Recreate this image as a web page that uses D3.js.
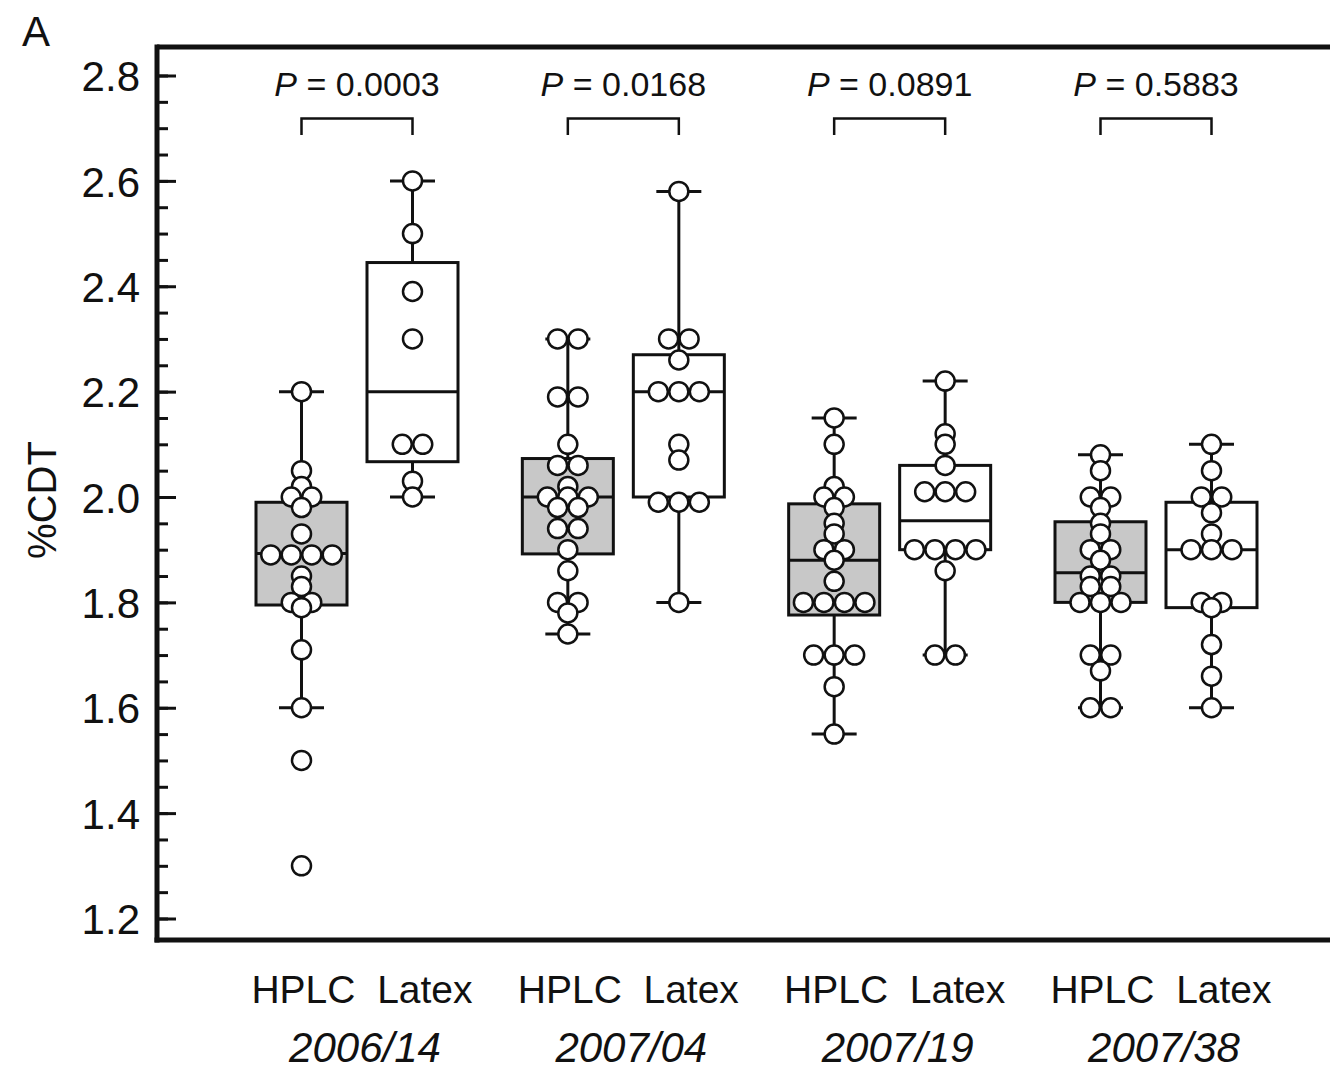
<!DOCTYPE html>
<html>
<head>
<meta charset="utf-8">
<script src="https://cdn.jsdelivr.net/npm/d3@7"></script>
<style>
  body { margin: 0; background: #fff; }
  text { font-family: "Liberation Sans", Arial, Helvetica, sans-serif; fill: #111; }
</style>
</head>
<body>
<svg id="chart" width="1330" height="1072"></svg>
<script>
// data
var groups = ["2006/14", "2007/04", "2007/19", "2007/38"];
var methods = ["HPLC", "Latex"];
var pValues = ["0.0003", "0.0168", "0.0891", "0.5883"];
var majorTicks = [1.2, 1.4, 1.6, 1.8, 2.0, 2.2, 2.4, 2.6, 2.8];

var hplcPoints = [
  [2.20, 2.05, 2.02, 2.00, 2.00, 1.98, 1.93, 1.89, 1.89, 1.89, 1.89, 1.85, 1.83, 1.80, 1.80, 1.79, 1.71, 1.60, 1.50, 1.30],
  [2.30, 2.30, 2.19, 2.19, 2.10, 2.06, 2.06, 2.02, 2.00, 2.00, 2.00, 1.98, 1.98, 1.94, 1.94, 1.90, 1.86, 1.80, 1.80, 1.78, 1.74],
  [2.15, 2.10, 2.02, 2.00, 2.00, 1.98, 1.95, 1.93, 1.90, 1.90, 1.88, 1.84, 1.80, 1.80, 1.80, 1.80, 1.70, 1.70, 1.70, 1.64, 1.55],
  [2.08, 2.05, 2.00, 2.00, 1.98, 1.95, 1.93, 1.90, 1.90, 1.88, 1.85, 1.85, 1.83, 1.83, 1.80, 1.80, 1.80, 1.70, 1.70, 1.67, 1.60, 1.60]
];
var latexPoints = [
  [2.60, 2.50, 2.39, 2.30, 2.10, 2.10, 2.03, 2.00],
  [2.58, 2.30, 2.30, 2.26, 2.20, 2.20, 2.20, 2.10, 2.07, 1.99, 1.99, 1.99, 1.80],
  [2.22, 2.12, 2.10, 2.06, 2.01, 2.01, 2.01, 1.90, 1.90, 1.90, 1.90, 1.86, 1.70, 1.70],
  [2.10, 2.05, 2.00, 2.00, 1.97, 1.93, 1.90, 1.90, 1.90, 1.80, 1.80, 1.79, 1.72, 1.66, 1.60]
];

// [lower whisker, q1, median, q3, upper whisker]
var hplcBoxes = [
  [1.60, 1.795, 1.893, 1.99, 2.20],
  [1.74, 1.892, 2.00, 2.073, 2.30],
  [1.55, 1.776, 1.88, 1.987, 2.15],
  [1.60, 1.80, 1.856, 1.953, 2.08]
];
var latexBoxes = [
  [2.00, 2.067, 2.20, 2.445, 2.60],
  [1.80, 2.00, 2.20, 2.27, 2.58],
  [1.70, 1.90, 1.955, 2.06, 2.22],
  [1.60, 1.79, 1.90, 1.99, 2.10]
];

var svg = d3.select("#chart");

var plotTop = 47, plotBottom = 940, plotLeft = 157, plotRight = 1330;

var y = d3.scaleLinear()
    .domain([1.2, 2.8])
    .range([918.5, 75.5]);

var x = d3.scalePoint()
    .domain(groups)
    .range([357, 1156]);

var xm = d3.scalePoint()
    .domain(methods)
    .range([-55.5, 55.5]);

var boxWidth = 91, capWidth = 45, dotR = 9.5, dotStep = 20.5;

// minor ticks
var minorAxis = d3.axisLeft(y)
    .tickValues(d3.range(24, 57).map(function(i) { return i * 0.05; }))
    .tickSize(-11)
    .tickFormat("");

svg.append("g")
    .attr("transform", "translate(" + plotLeft + ",0)")
    .call(minorAxis)
    .call(function(g) { g.select(".domain").remove(); })
    .selectAll("line").attr("stroke", "#111").attr("stroke-width", 3);

var majorAxis = d3.axisLeft(y)
    .tickValues(majorTicks)
    .tickSize(-19)
    .tickPadding(17)
    .tickFormat(d3.format(".1f"));

var yg = svg.append("g")
    .attr("transform", "translate(" + plotLeft + ",0)")
    .call(majorAxis)
    .call(function(g) { g.select(".domain").remove(); });

yg.selectAll("line").attr("stroke", "#111").attr("stroke-width", 3);
yg.selectAll("text")
    .attr("font-size", 42)
    .attr("font-family", null)
    .attr("fill", null)
    .attr("dy", "0.36em");

// frame
svg.append("line")
    .attr("x1", plotLeft).attr("x2", plotRight)
    .attr("y1", plotTop).attr("y2", plotTop)
    .attr("stroke", "#111").attr("stroke-width", 5);
svg.append("line")
    .attr("x1", plotLeft - 2.5).attr("x2", plotRight)
    .attr("y1", plotBottom).attr("y2", plotBottom)
    .attr("stroke", "#111").attr("stroke-width", 5);
svg.append("line")
    .attr("x1", plotLeft).attr("x2", plotLeft)
    .attr("y1", plotTop - 2.5).attr("y2", plotBottom + 2.5)
    .attr("stroke", "#111").attr("stroke-width", 5);

// y label + panel letter
svg.append("text")
    .attr("transform", "translate(56,500) rotate(-90)")
    .attr("text-anchor", "middle")
    .attr("font-size", 40)
    .text("%CDT");

svg.append("text")
    .attr("x", 22).attr("y", 46)
    .attr("font-size", 42)
    .text("A");

function drawBox(stats, points, cx, fill) {
  var g = svg.append("g");
  var lo = stats[0], q1 = stats[1], med = stats[2], q3 = stats[3], hi = stats[4];

  g.append("line")
      .attr("x1", cx).attr("x2", cx)
      .attr("y1", y(lo)).attr("y2", y(q1))
      .attr("stroke", "#111").attr("stroke-width", 3);
  g.append("line")
      .attr("x1", cx).attr("x2", cx)
      .attr("y1", y(q3)).attr("y2", y(hi))
      .attr("stroke", "#111").attr("stroke-width", 3);

  [lo, hi].forEach(function(v) {
    g.append("line")
        .attr("x1", cx - capWidth / 2).attr("x2", cx + capWidth / 2)
        .attr("y1", y(v)).attr("y2", y(v))
        .attr("stroke", "#111").attr("stroke-width", 3);
  });

  g.append("rect")
      .attr("x", cx - boxWidth / 2)
      .attr("y", y(q3))
      .attr("width", boxWidth)
      .attr("height", y(q1) - y(q3))
      .attr("fill", fill)
      .attr("stroke", "#111").attr("stroke-width", 3);

  g.append("line")
      .attr("x1", cx - boxWidth / 2).attr("x2", cx + boxWidth / 2)
      .attr("y1", y(med)).attr("y2", y(med))
      .attr("stroke", "#111").attr("stroke-width", 3);

  // identical values are spread side by side
  var counts = d3.rollup(points, function(v) { return v.length; }, function(d) { return d; });
  var seen = new Map();
  var dots = points.map(function(v) {
    var n = counts.get(v);
    var i = seen.get(v) || 0;
    seen.set(v, i + 1);
    return {value: v, off: (i - (n - 1) / 2) * dotStep};
  });

  g.selectAll("circle.dot")
    .data(dots)
    .enter().append("circle")
      .attr("class", "dot")
      .attr("cx", function(d) { return cx + d.off; })
      .attr("cy", function(d) { return y(d.value); })
      .attr("r", dotR)
      .attr("fill", "#fff")
      .attr("stroke", "#111")
      .attr("stroke-width", 2.5);
}

groups.forEach(function(grp, i) {
  var gx = x(grp);
  drawBox(hplcBoxes[i], hplcPoints[i], gx + xm("HPLC"), "#c8c8c8");
  drawBox(latexBoxes[i], latexPoints[i], gx + xm("Latex"), "#fff");

  // p value + bracket
  var t = svg.append("text")
      .attr("x", gx).attr("y", 96)
      .attr("text-anchor", "middle")
      .attr("font-size", 34);
  t.append("tspan").attr("font-style", "italic").text("P");
  t.append("tspan").text(" = " + pValues[i]);

  var bl = gx + xm("HPLC"), br = gx + xm("Latex");
  svg.append("path")
      .attr("d", "M" + bl + ",135V118.5H" + br + "V135")
      .attr("fill", "none")
      .attr("stroke", "#111").attr("stroke-width", 2.5);

  // category labels
  svg.append("text")
      .attr("x", gx + 5).attr("y", 1003)
      .attr("text-anchor", "middle")
      .attr("font-size", 39)
      .style("white-space", "pre")
      .text(methods.join("  "));

  svg.append("text")
      .attr("x", gx + 8).attr("y", 1062)
      .attr("text-anchor", "middle")
      .attr("font-size", 42)
      .attr("font-style", "italic")
      .text(grp);
});
</script>
</body>
</html>
